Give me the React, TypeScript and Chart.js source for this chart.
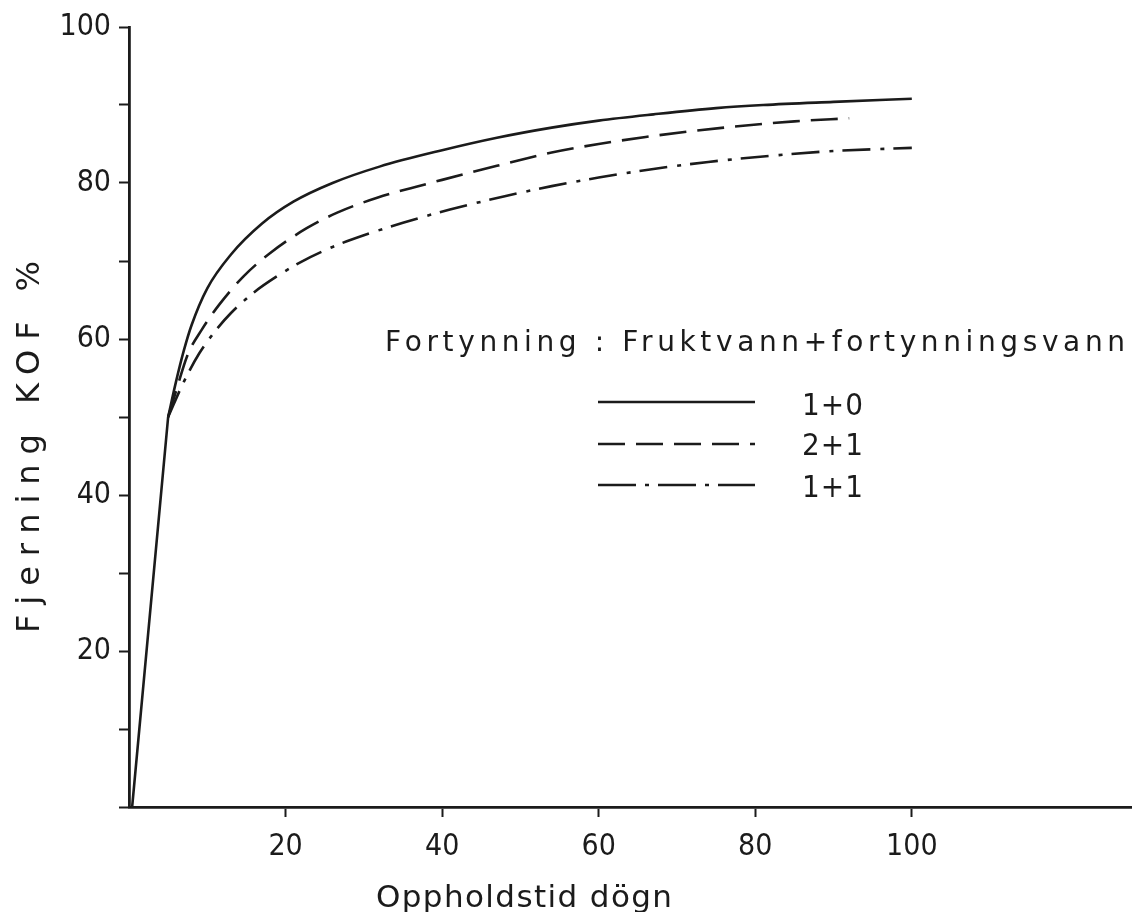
import React, { useEffect, useRef } from 'react';
import { Chart, registerables } from 'chart.js';

Chart.register(...registerables);

// ---- data ----
const startX = [0.4, 5];
const startY = [0, 50];

const solidX = [5, 6, 7, 8, 10, 13, 17, 21, 26, 32, 40, 47, 54, 60, 67, 75, 81, 90, 100];
const solidY = [50, 54.5, 58.5, 61.8, 66.5, 70.8, 74.8, 77.6, 80, 82.1, 84.2, 85.8, 87.1, 88, 88.8, 89.6, 90, 90.4, 90.8];

const dashedX = [5, 6, 7.5, 9.3, 11.6, 14.6, 18, 22.7, 26.6, 31.7, 40, 47, 54, 60, 66, 76, 85, 92];
const dashedY = [50, 53.3, 58, 61.2, 64.5, 68, 71, 74.2, 76.2, 78.1, 80.4, 82.2, 83.9, 85, 85.9, 87.1, 87.9, 88.3];

const dashDotX = [5, 7, 9, 11, 13, 16, 19, 22, 26, 30, 35, 41, 48, 54, 60, 67, 74, 81, 90, 100];
const dashDotY = [50, 54.5, 58.2, 61, 63.3, 66, 68.1, 69.9, 71.8, 73.3, 74.9, 76.6, 78.3, 79.6, 80.7, 81.8, 82.7, 83.4, 84.1, 84.5];

const xTicks = [20, 40, 60, 80, 100];
const yTicks = [0, 10, 20, 30, 40, 50, 60, 70, 80, 90, 100];
const yTickLabels = [20, 40, 60, 80, 100];

const xTitle = 'Oppholdstid dögn';
const yTitle = 'Fjerning KOF %';
const legendTitle = 'Fortynning : Fruktvann+fortynningsvann';
const seriesLabels = ['1 + 0', '2 + 1', '1 + 1'];

const INK = '#1b1b1b';
const FONT = "'DejaVu Sans Condensed', 'Liberation Sans Narrow', 'DejaVu Sans', sans-serif";
const WIDE_FONT = "'DejaVu Sans', sans-serif";
const DASHED = [27, 11];
const DASHDOT = [28, 10, 4, 9];
const LEGEND_DASHDOT = [38, 9, 4, 9];

const toPoints = (xs: number[], ys: number[]) => xs.map((x, i) => ({ x, y: ys[i] }));

function fitText(ctx: CanvasRenderingContext2D, text: string, x: number, y: number, width: number, align: 'left' | 'center') {
  (ctx as any).letterSpacing = '0px';
  const w0 = ctx.measureText(text).width;
  const n = text.length;
  const sp = (width - w0) / Math.max(1, n - 1);
  (ctx as any).letterSpacing = sp + 'px';
  const left = align === 'center' ? x - width / 2 : x;
  ctx.textAlign = 'left';
  ctx.fillText(text, left, y);
  (ctx as any).letterSpacing = '0px';
}

const textPlugin = {
  id: 'textPlugin',
  afterDraw(chart: any) {
    const ctx: CanvasRenderingContext2D = chart.ctx;
    ctx.save();
    ctx.fillStyle = INK;
    ctx.strokeStyle = INK;
    ctx.textBaseline = 'alphabetic';

    // axis titles
    ctx.font = `31px ${WIDE_FONT}`;
    fitText(ctx, xTitle, 524, 907, 296, 'center');
    ctx.save();
    ctx.translate(39, 447);
    ctx.rotate(-Math.PI / 2);
    ctx.font = `32px ${WIDE_FONT}`;
    fitText(ctx, yTitle, 0, 0, 372, 'center');
    ctx.restore();

    // legend header
    ctx.font = `28px ${WIDE_FONT}`;
    fitText(ctx, legendTitle, 385, 351, 740, 'left');

    // legend entries
    const rows = [
      { y: 402, base: 415, dash: [] as number[] },
      { y: 444, base: 455, dash: DASHED },
      { y: 485, base: 497, dash: LEGEND_DASHDOT },
    ];
    ctx.lineWidth = 2.6;
    ctx.font = `31px ${FONT}`;
    rows.forEach((r, i) => {
      ctx.setLineDash(r.dash);
      ctx.beginPath();
      ctx.moveTo(598, r.y);
      ctx.lineTo(755, r.y);
      ctx.stroke();
      ctx.setLineDash([]);
      fitText(ctx, seriesLabels[i], 802, r.base, 61, 'left');
    });
    ctx.restore();
  },
};

export default function App() {
  const canvasRef = useRef<HTMLCanvasElement | null>(null);

  useEffect(() => {
    const canvas = canvasRef.current;
    if (!canvas) return;
    const common = {
      borderColor: INK,
      borderWidth: 2.6,
      pointRadius: 0,
      fill: false,
      cubicInterpolationMode: 'monotone' as const,
    };
    const chart = new Chart(canvas, {
      type: 'line',
      data: {
        datasets: [
          { ...common, label: 'start', data: toPoints(startX, startY), tension: 0 },
          { ...common, label: seriesLabels[0], data: toPoints(solidX, solidY) },
          { ...common, label: seriesLabels[1], data: toPoints(dashedX, dashedY), borderDash: DASHED },
          { ...common, label: seriesLabels[2], data: toPoints(dashDotX, dashDotY), borderDash: DASHDOT },
        ],
      },
      options: {
        responsive: false,
        animation: false,
        layout: { padding: { top: 27, right: 7, left: 0, bottom: 0 } },
        plugins: { legend: { display: false }, tooltip: { enabled: false }, title: { display: false } },
        scales: {
          x: {
            type: 'linear',
            min: 0,
            max: 128,
            afterBuildTicks: (s: any) => {
              s.ticks = xTicks.map((v) => ({ value: v }));
            },
            afterFit: (s: any) => {
              s.height = 105;
            },
            border: { display: true, color: INK, width: 2.8 },
            grid: { drawOnChartArea: false, drawTicks: true, tickLength: 10, tickWidth: 2, tickColor: INK },
            ticks: {
              color: INK,
              font: { family: FONT, size: 30 },
              padding: 12,
              maxRotation: 0,
              autoSkip: false,
              callback: (v: any) => String(v),
            },
          },
          y: {
            type: 'linear',
            min: 0,
            max: 100,
            afterBuildTicks: (s: any) => {
              s.ticks = yTicks.map((v) => ({ value: v }));
            },
            afterFit: (s: any) => {
              s.width = 129;
            },
            border: { display: true, color: INK, width: 2.8 },
            grid: { drawOnChartArea: false, drawTicks: true, tickLength: 10, tickWidth: 2, tickColor: INK },
            ticks: {
              color: INK,
              font: { family: FONT, size: 30 },
              padding: 8,
              autoSkip: false,
              callback: (v: any) => (yTickLabels.includes(Number(v)) ? String(v) : ''),
            },
          },
        },
      },
      plugins: [textPlugin],
    });
    return () => chart.destroy();
  }, []);

  return (
    <div style={{ position: 'fixed', left: 0, top: 0, width: 1138, height: 912, background: '#fff' }}>
      <canvas ref={canvasRef} width={1138} height={912} style={{ display: 'block' }} />
    </div>
  );
}
